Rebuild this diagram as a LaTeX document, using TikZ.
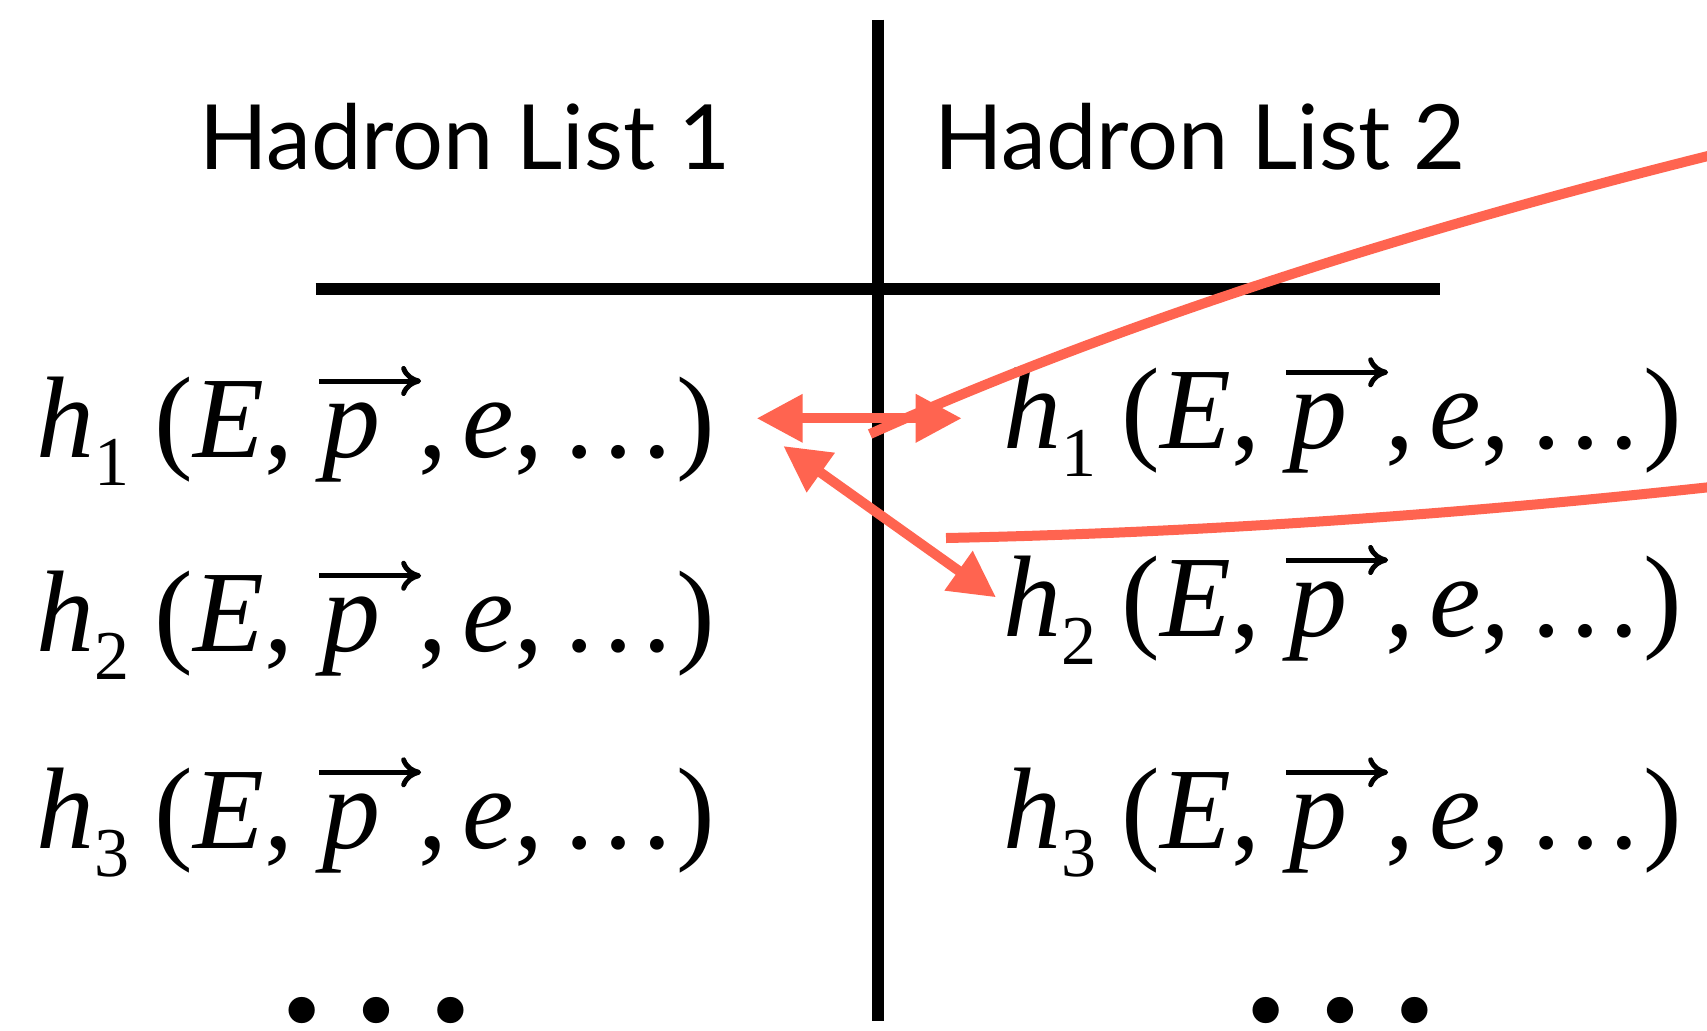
\documentclass[tikz,border=0pt]{standalone}
\usepackage{fontspec}
\setmainfont{Liberation Serif}
\newfontfamily\headfont{Lato}
\usetikzlibrary{arrows.meta}
\definecolor{hred}{RGB}{255,100,80}
\newcommand{\subn}[1]{\raisebox{-14pt}{\fontsize{35pt}{35pt}\selectfont #1}}
\newcommand{\vecp}{\rlap{\tikz[baseline=0pt,x=1pt,y=1pt]{\path (0,0); \draw[line width=2.5pt,line cap=butt,-{Computer Modern Rightarrow[length=10pt,width=15pt]}] (0,38) -- (51,38);}}\kern0.05em{\itshape p}\kern0.33em}
\newcommand{\hrow}[1]{{\itshape h}\subn{#1}\kern0.22em({\itshape E},\hspace{0.2em}\vecp\kern0.0em,\kern0.13em{\itshape e},\kern0.15em\char"2026)}
\tikzset{
  blackline/.style={line width=6pt, black},
  redline/.style={line width=5pt, hred},
  redarrow/.style={line width=5pt, hred, {Triangle[length=23pt,width=23pt]}-{Triangle[length=23pt,width=23pt]}},
  formula/.style={inner sep=0pt, anchor=base west, font=\fontsize{58pt}{60pt}\selectfont},
  heading/.style={inner sep=0pt, anchor=base, font=\headfont\fontsize{45pt}{46pt}\selectfont},
  moredots/.style={inner sep=0pt, anchor=base, font=\fontsize{111pt}{112pt}\selectfont}
}
\begin{document}
\begin{tikzpicture}[x=0.5pt,y=-0.5pt]
\useasboundingbox (0,0) rectangle (1707,1030);
% black cross
\coordinate (vt) at (878,19.6);
\coordinate (vb) at (878,1021);
\coordinate (hl) at (315.7,288.5);
\coordinate (hr) at (1440.4,288.5);
\draw[blackline] (vt) -- (vb);
\draw[blackline] (hl) -- (hr);
% headings
\node[heading] (head1) at (465,169.3) {Hadron List 1};
\node[heading] (head2) at (1200,169.3) {Hadron List 2};
% left list
\node[formula] (L1) at (36,457) {\hrow{1}};
\node[formula] (L2) at (36,651.7) {\hrow{2}};
\node[formula] (L3) at (36,848.3) {\hrow{3}};
\node[moredots] (Ldots) at (376,1020) {\char"2026};
% right list
\node[formula] (R1) at (1003,448.3) {\hrow{1}};
\node[formula] (R2) at (1003,636) {\hrow{2}};
\node[formula] (R3) at (1003,848.3) {\hrow{3}};
\node[moredots] (Rdots) at (1340,1020) {\char"2026};
% red connectors
\coordinate (a1l) at (756.7,418.3);
\coordinate (a1r) at (961.7,418.3);
\coordinate (a2l) at (783.3,446);
\coordinate (a2r) at (996,597.3);
\draw[redarrow] (a1l) -- (a1r);
\draw[redarrow] (a2l) -- (a2r);
\coordinate (c1s) at (870,434);
\coordinate (c1e) at (1720,153);
\draw[redline] (c1s) .. controls (1099,331) and (1385,236) .. (c1e);
\coordinate (c2s) at (946,538);
\coordinate (c2e) at (1720,486);
\draw[redline] (c2s) .. controls (1189,533) and (1445,516) .. (c2e);
\end{tikzpicture}
\end{document}
